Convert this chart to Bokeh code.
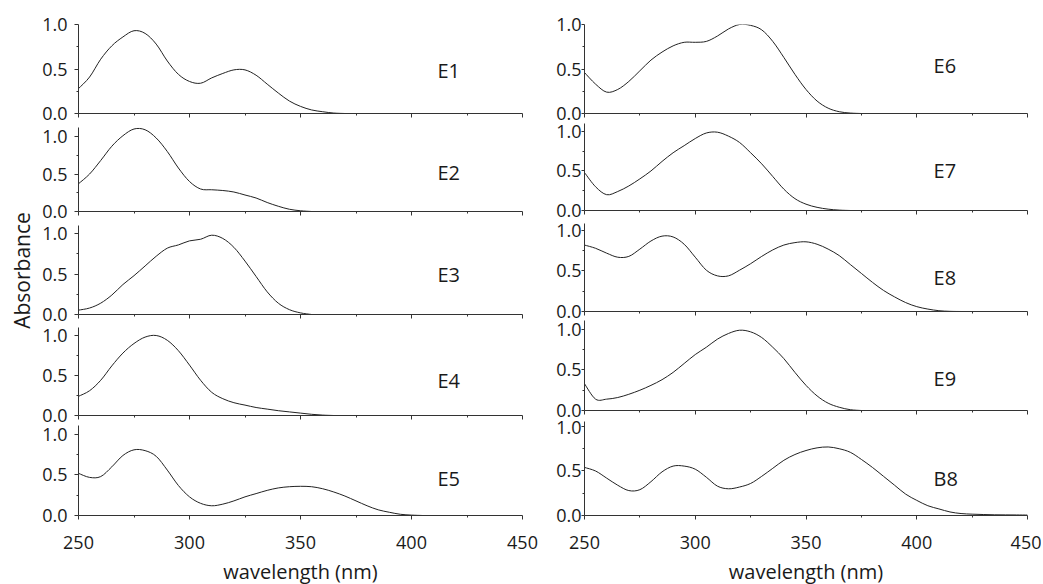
import math
from bokeh.plotting import figure
from bokeh.layouts import row, column
from bokeh.models import (Range1d, FixedTicker, Label, PrintfTickFormatter,
                          CustomLabelingPolicy)
from bokeh.embed import file_html
from bokeh.resources import INLINE

# ---------------- data ----------------
wavelength = list(range(250, 451, 5))

E1 = [0.28, 0.41, 0.61, 0.76, 0.86, 0.93, 0.90, 0.78, 0.59, 0.44, 0.36, 0.34, 0.40, 0.45,
      0.49, 0.49, 0.43, 0.33, 0.23, 0.14, 0.08, 0.04, 0.02, 0.005, 0.0]
E2 = [0.37, 0.50, 0.68, 0.87, 1.01, 1.10, 1.09, 0.98, 0.80, 0.58, 0.40, 0.30, 0.29, 0.28,
      0.26, 0.22, 0.18, 0.12, 0.07, 0.03, 0.01, 0.0]
E3 = [0.054, 0.08, 0.14, 0.24, 0.37, 0.48, 0.60, 0.72, 0.82, 0.86, 0.91, 0.93, 0.98, 0.94,
      0.83, 0.66, 0.47, 0.28, 0.14, 0.06, 0.02, 0.0]
E4 = [0.24, 0.31, 0.44, 0.62, 0.78, 0.90, 0.98, 1.00, 0.94, 0.81, 0.63, 0.44, 0.29, 0.21,
      0.16, 0.13, 0.10, 0.08, 0.06, 0.045, 0.03, 0.015, 0.005, 0.0]
E5 = [0.52, 0.47, 0.48, 0.60, 0.74, 0.81, 0.80, 0.73, 0.56, 0.37, 0.23, 0.15, 0.12, 0.14,
      0.18, 0.23, 0.27, 0.31, 0.34, 0.355, 0.36, 0.355, 0.33, 0.29, 0.24, 0.18, 0.12, 0.07,
      0.04, 0.015, 0.005, 0.0]
E6 = [0.46, 0.33, 0.24, 0.27, 0.36, 0.48, 0.60, 0.69, 0.76, 0.80, 0.80, 0.81, 0.87, 0.95,
      1.00, 0.99, 0.94, 0.81, 0.63, 0.44, 0.27, 0.14, 0.06, 0.02, 0.005, 0.0]
E7 = [0.48, 0.30, 0.20, 0.24, 0.31, 0.40, 0.50, 0.62, 0.73, 0.82, 0.91, 0.98, 0.99, 0.94,
      0.86, 0.73, 0.59, 0.43, 0.27, 0.15, 0.08, 0.04, 0.017, 0.005, 0.0]
E8 = [0.82, 0.78, 0.72, 0.67, 0.68, 0.77, 0.87, 0.93, 0.92, 0.83, 0.67, 0.51, 0.44, 0.44,
      0.51, 0.59, 0.68, 0.76, 0.82, 0.85, 0.86, 0.83, 0.77, 0.69, 0.58, 0.47, 0.36, 0.26,
      0.18, 0.11, 0.06, 0.03, 0.01, 0.002, 0.0]
E9 = [0.33, 0.14, 0.14, 0.16, 0.20, 0.25, 0.31, 0.38, 0.47, 0.58, 0.69, 0.78, 0.88, 0.95,
      0.99, 0.97, 0.90, 0.78, 0.64, 0.47, 0.31, 0.18, 0.09, 0.04, 0.01, 0.0]
B8 = [0.54, 0.50, 0.42, 0.34, 0.28, 0.29, 0.38, 0.49, 0.555, 0.555, 0.52, 0.43, 0.33, 0.30,
      0.32, 0.36, 0.44, 0.53, 0.62, 0.685, 0.73, 0.76, 0.77, 0.75, 0.71, 0.63, 0.54, 0.44,
      0.34, 0.24, 0.17, 0.11, 0.074, 0.04, 0.022, 0.015, 0.011, 0.008, 0.007, 0.006, 0.005]

left_names = ["E1", "E2", "E3", "E4", "E5"]
left_series = [E1, E2, E3, E4, E5]
right_names = ["E6", "E7", "E8", "E9", "B8"]
right_series = [E6, E7, E8, E9, B8]

x_ticks = [250, 300, 350, 400, 450]
x_minor_ticks = [275, 325, 375, 425]
y_ticks = [0.0, 0.5, 1.0]
y_minor_ticks = [0.25, 0.75]
x_title = "wavelength (nm)"
y_title = "Absorbance"

# ---------------- layout / style ----------------
FONT = "Open Sans"
INK = "#1a1a1a"
PAGE_H = 584
TITLE_W = 36
# (frame_height, border_top, border_bottom, y_top, label_y)
left_layout = [(89, 24, 10, 1.00, 0.48), (84, 4, 10, 1.12, 0.52), (89, 4, 10, 1.10, 0.50),
               (88, 3, 10, 1.10, 0.44), (90, 0, 69, 1.11, 0.46)]
right_layout = [(89, 24, 10, 1.00, 0.54), (87, 0, 10, 1.10, 0.50), (88, 3, 9, 1.086, 0.42),
                (90, 0, 10, 1.11, 0.40), (94, 1, 69, 1.056, 0.42)]


def smooth_segments(xs, ys):
    """Cubic (Catmull-Rom) bezier segments passing through every read point."""
    n = len(xs)
    seg = dict(x0=[], y0=[], x1=[], y1=[], cx0=[], cy0=[], cx1=[], cy1=[])
    for i in range(n - 1):
        xa, ya = (xs[i - 1], ys[i - 1]) if i > 0 else (xs[i], ys[i])
        xb, yb = xs[i], ys[i]
        xc, yc = xs[i + 1], ys[i + 1]
        xd, yd = (xs[i + 2], ys[i + 2]) if i + 2 < n else (xc, yc)
        seg["x0"].append(xb); seg["y0"].append(yb)
        seg["x1"].append(xc); seg["y1"].append(yc)
        seg["cx0"].append(xb + (xc - xa) / 6.0); seg["cy0"].append(yb + (yc - ya) / 6.0)
        seg["cx1"].append(xc - (xd - xb) / 6.0); seg["cy1"].append(yc - (yd - yb) / 6.0)
    return seg


def make_panel(name, vals, spec, last, left_col):
    fh, bt, bb, ytop, ly = spec
    if left_col:
        fw, bl, br, ystand, lx = 444, 78 - TITLE_W, 16, 7, 411.7
    else:
        fw, bl, br, ystand, lx = 443, 46, 14, 0, 407.6
    p = figure(frame_width=fw, frame_height=fh, x_range=Range1d(250, 450),
               y_range=Range1d(0, ytop), output_backend="svg", toolbar_location=None,
               min_border_left=bl, min_border_right=br, min_border_top=bt,
               min_border_bottom=bb, background_fill_color="white",
               border_fill_color="white")
    p.outline_line_color = None
    p.xgrid.visible = False
    p.ygrid.visible = False

    seg = smooth_segments(wavelength[:len(vals)], vals)
    p.bezier(x0=seg["x0"], y0=seg["y0"], x1=seg["x1"], y1=seg["y1"],
             cx0=seg["cx0"], cy0=seg["cy0"], cx1=seg["cx1"], cy1=seg["cy1"],
             line_color="#222222", line_width=1)

    for ax in (p.xaxis[0], p.yaxis[0]):
        ax.axis_line_color = "#333333"
        ax.axis_line_width = 1
        ax.major_tick_line_color = "#333333"
        ax.minor_tick_line_color = "#333333"
        ax.major_tick_in = 0
        ax.minor_tick_in = 0
        ax.minor_tick_out = 2
        ax.major_label_text_font = FONT
        ax.major_label_text_font_size = "18px"
        ax.major_label_text_color = INK

    xa = p.xaxis[0]
    xa.ticker = FixedTicker(ticks=x_ticks, minor_ticks=x_minor_ticks)
    xa.major_tick_out = 4
    if last:
        xa.major_label_standoff = 16
        xa.axis_label = x_title
        xa.axis_label_text_font = FONT
        xa.axis_label_text_font_size = "20px"
        xa.axis_label_text_font_style = "normal"
        xa.axis_label_text_color = INK
        xa.axis_label_standoff = 6
    else:
        xa.major_label_text_font_size = "0px"
        xa.major_label_standoff = 0
        xa.major_label_policy = CustomLabelingPolicy(code="return []")

    ya = p.yaxis[0]
    ya.ticker = FixedTicker(ticks=y_ticks, minor_ticks=y_minor_ticks)
    ya.formatter = PrintfTickFormatter(format="%.1f")
    ya.major_tick_out = 4 if left_col else 3
    ya.major_label_standoff = ystand

    p.add_layout(Label(x=lx, y=ly, text=name, text_align="left", text_baseline="middle",
                       text_font=FONT, text_font_size="20px", text_color=INK))
    return p


# narrow strip holding the shared y title
title_fig = figure(width=TITLE_W, height=PAGE_H, x_range=Range1d(0, TITLE_W),
                   y_range=Range1d(0, PAGE_H), output_backend="svg", toolbar_location=None,
                   x_axis_location=None, y_axis_location=None, min_border=0,
                   background_fill_color="white", border_fill_color="white")
title_fig.outline_line_color = None
title_fig.grid.visible = False
title_fig.add_layout(Label(x=21, y=PAGE_H - 270, text=y_title, angle=math.pi / 2,
                           text_align="center", text_baseline="middle",
                           text_font=FONT, text_font_size="21px", text_color=INK))

left_figs = []
for i, (nm, vals) in enumerate(zip(left_names, left_series)):
    left_figs.append(make_panel(nm, vals, left_layout[i], i == 4, True))
right_figs = []
for i, (nm, vals) in enumerate(zip(right_names, right_series)):
    right_figs.append(make_panel(nm, vals, right_layout[i], i == 4, False))

layout = row(title_fig, column(*left_figs, spacing=0), column(*right_figs, spacing=0),
             spacing=0)

open("out.html", "w").write(file_html(layout, INLINE))
